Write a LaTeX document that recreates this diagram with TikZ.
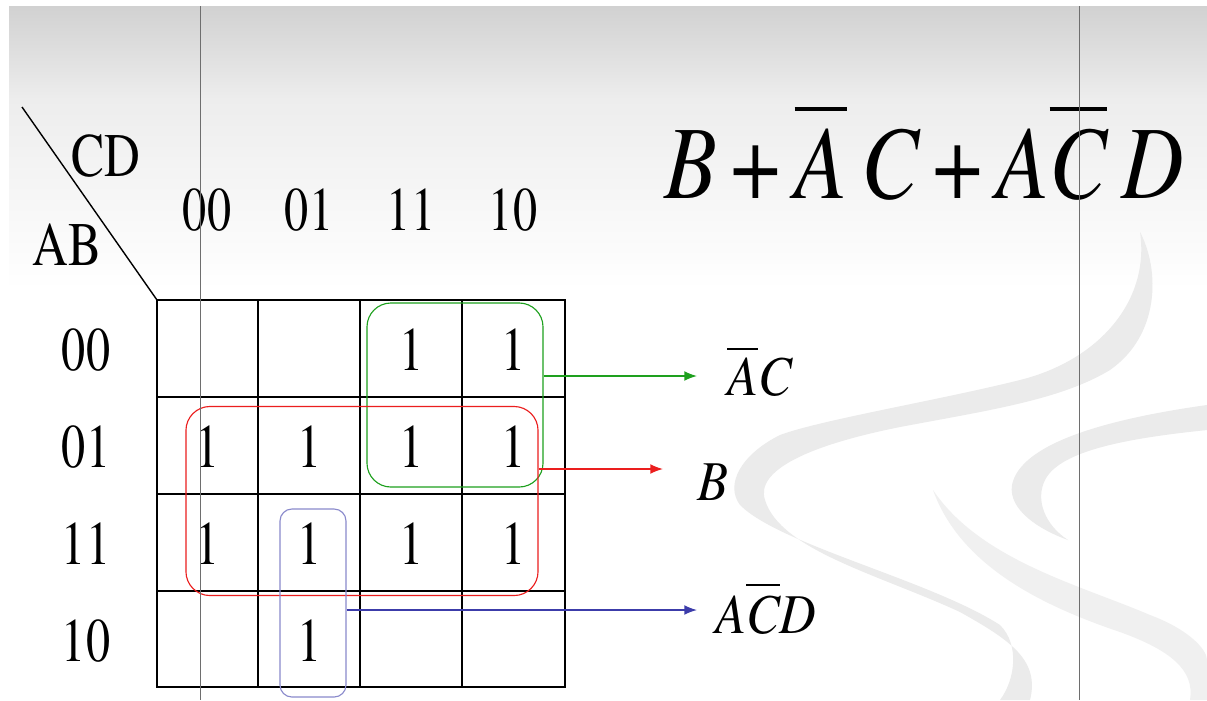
\documentclass[tikz,border=0pt]{standalone}
\usepackage{graphicx}
\usepackage[T1]{fontenc}
\usepackage{mathptmx}
\usetikzlibrary{arrows.meta,positioning}
\definecolor{kgreen}{RGB}{30,160,30}
\definecolor{kred}{RGB}{235,30,30}
\definecolor{kblue}{RGB}{60,60,170}
\definecolor{kline}{RGB}{110,110,110}
% bar over a letter: thickness, gap, letter
\newcommand{\ovl}[3]{\leavevmode\vbox{\hrule height #1\kern#2\hbox{#3}}}
\newcommand{\narrow}[2]{\scalebox{#1}[1]{#2}}

\begin{document}
\begin{tikzpicture}[
    x=0.025cm, y=-0.025cm,
    cell/.style={
		font=\fontsize{44}{44}\selectfont,
		inner sep=0pt
	},
	lbl/.style={
		font=\itshape\fontsize{40}{40}\selectfont,
		inner sep=0pt
	},
	group/.style={
		draw=#1,
		rounded corners=0.6cm,
		line width=0.8pt,
		inner sep=0pt
	},
	conn/.style={
		-{Latex[length=9pt,width=7pt]},
		line width=1.1pt
	},
	swirl/.style={
		fill=black!8,
		draw=none
	}
  ]
  \useasboundingbox (0,0) rectangle (1207,700);

  % background and decoration
  \fill[white] (0,0) rectangle (1207,700);
  \shade[top color=black!18, bottom color=black!7] (9,6) rectangle (1207,100);
  \shade[top color=black!7, bottom color=white] (9,100) rectangle (1207,290);

  \fill[swirl] (1140,232) .. controls (1150,300) and (1100,360) .. (1020,380)
    .. controls (940,400) and (820,420) .. (780,435)
    .. controls (740,455) and (725,485) .. (740,505)
    .. controls (780,545) and (930,580) .. (1000,625)
    .. controls (1020,645) and (1015,680) .. (1000,700) -- (1030,700)
    .. controls (1040,660) and (1010,640) .. (960,612)
    .. controls (880,575) and (780,550) .. (765,500)
    .. controls (755,470) and (810,445) .. (900,427)
    .. controls (990,410) and (1060,400) .. (1110,370)
    .. controls (1160,335) and (1160,270) .. (1140,232) -- cycle;
  \fill[swirl] (1207,405) .. controls (1100,420) and (1020,445) .. (1012,485)
    .. controls (1008,510) and (1040,530) .. (1068,540)
    .. controls (1045,525) and (1035,500) .. (1045,480)
    .. controls (1060,450) and (1130,438) .. (1207,430) -- cycle;
  \fill[swirl, fill=black!6] (933,490) .. controls (980,560) and (1080,585) .. (1150,615)
    .. controls (1190,630) and (1207,650) .. (1207,660) -- (1207,700) -- (1190,700)
    .. controls (1195,670) and (1170,650) .. (1120,632)
    .. controls (1040,605) and (960,565) .. (933,490) -- cycle;

  % the map
  \draw[line width=1pt] (258,300) -- (258,687) (360,300) -- (360,687) (462,300) -- (462,687);
  \draw[line width=1pt] (157,397) -- (565,397) (157,591) -- (565,591);
  \draw[line width=1.8pt] (157,494) -- (565,494);
  \draw[line width=1.8pt] (157,300) rectangle (565,687);
  \coordinate (corner) at (157,300);
  \draw[line width=1pt] (22,107) -- (corner);

  \node[cell] (cd) at (106,156) {\narrow{0.8}{CD}};
  \node[cell] (ab) at (67,245) {\narrow{0.8}{AB}};
  \foreach \lab [count=\i from 0] in {00,01,11,10} {
    \node[cell] (col\i) at (207+102*\i,210) {\narrow{0.78}{\lab}};
    \node[cell] (row\i) at (86,350+97*\i) {\narrow{0.78}{\lab}};
  }
  \foreach \c/\r in {2/0,3/0,0/1,1/1,2/1,3/1,0/2,1/2,2/2,3/2,1/3}
    \node[cell] (one\c\r) at (207.5+102*\c,350+97*\r) {\narrow{0.78}{1}};

  % groups
  \node[group=kgreen, minimum width=4.4cm, minimum height=4.6cm] (gAC) at (455,395) {};
  \node[group=kred, minimum width=8.8cm, minimum height=4.725cm] (gB) at (362,501) {};
  \node[group=kblue!60, rounded corners=0.3cm, minimum width=1.65cm, minimum height=4.7cm] (gACD) at (313,603) {};

  % terms
  \node[lbl, anchor=base west] (lAC) at (727,395) {\narrow{0.9}{\ovl{1.4pt}{5pt}{A}C}};
  \node[lbl, anchor=base west] (lB) at (697,500) {\narrow{0.9}{B}};
  \node[lbl, anchor=base west] (lACD) at (715,633) {\narrow{0.9}{A\ovl{1.4pt}{6pt}{C}D}};
  \node[anchor=base west, inner sep=0pt, font=\itshape\fontsize{74}{74}\selectfont] (expr) at (664,198)
    {\narrow{0.83}{B\,{\upshape+}\,\ovl{2.8pt}{12pt}{A}\,C\,{\upshape+}\,A\ovl{2.8pt}{12pt}{C}\,D}};

  \coordinate (tAC) at (697,376);
  \coordinate (tB) at (663,469);
  \coordinate (tACD) at (697,610);
  \draw[conn, kgreen] (gAC.east |- tAC) -- (tAC);
  \draw[conn, kred] (gB.east |- tB) -- (tB);
  \draw[conn, kblue] (gACD.east |- tACD) -- (tACD);

  % guide lines
  \draw[kline, line width=0.7pt] (200,6) -- (200,700) (1079,6) -- (1079,700);
\end{tikzpicture}
\end{document}
